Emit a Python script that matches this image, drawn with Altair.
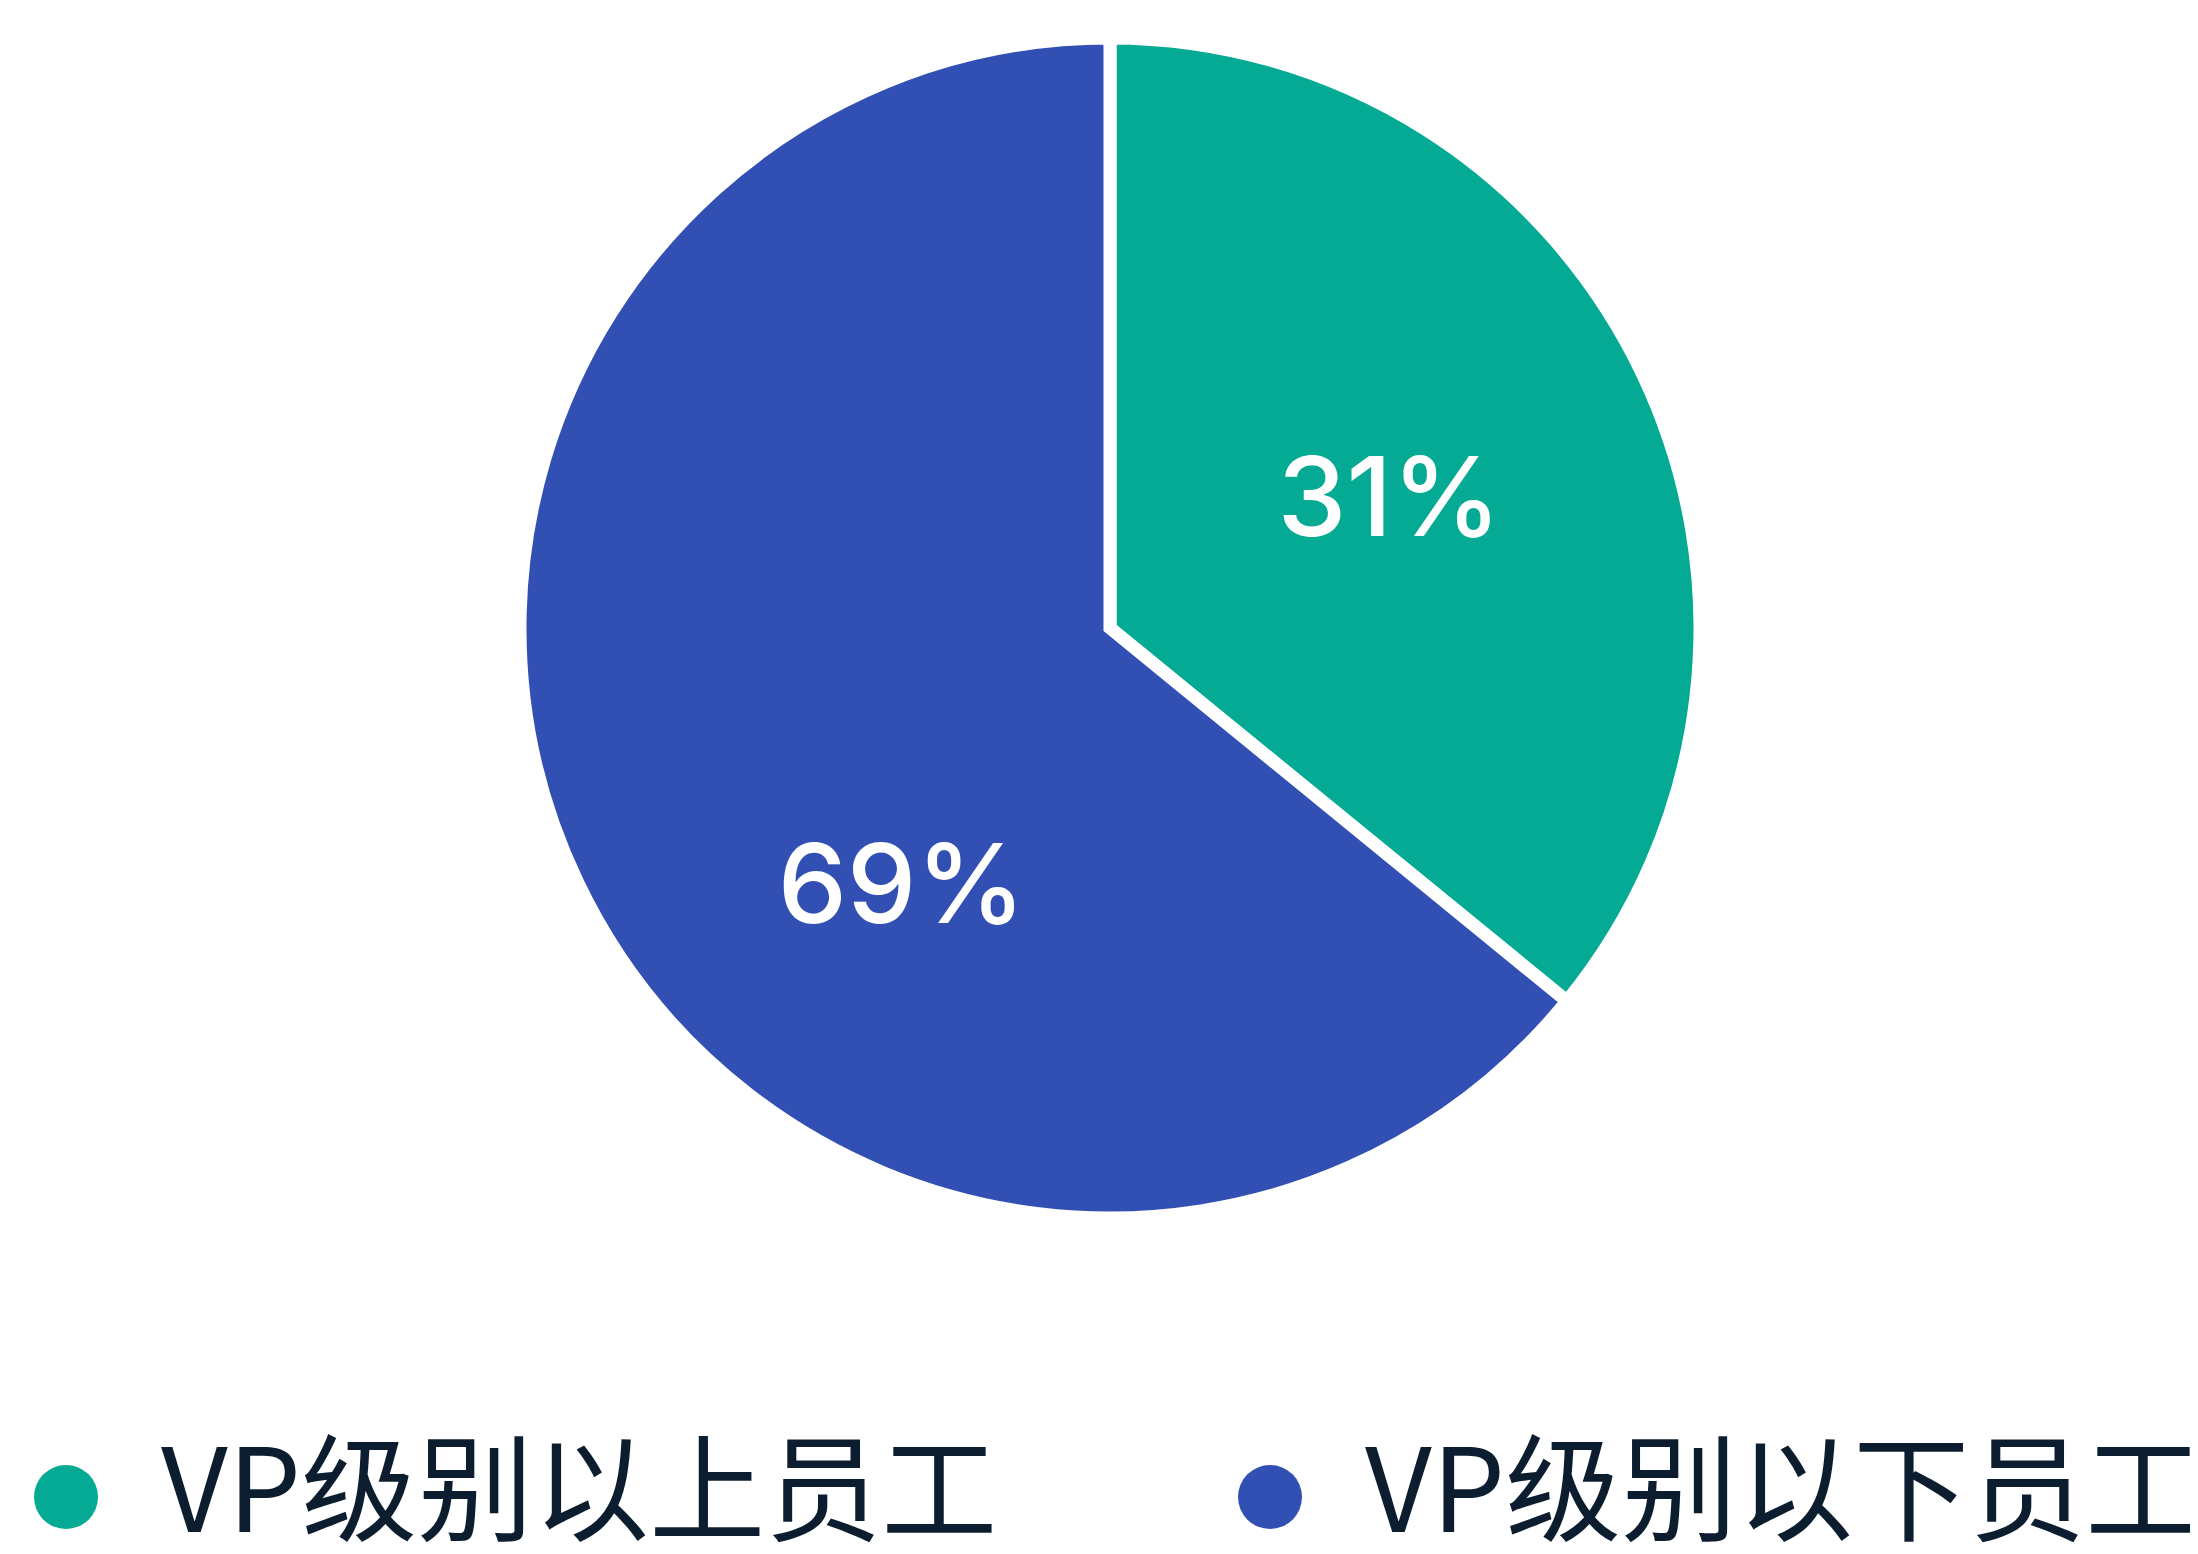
import altair as alt
import pandas as pd

categories = ["VP级别以上员工", "VP级别以下员工"]
shares = [35.9, 64.1]
labels = ["31%", "69%"]
order_idx = [0, 1]
colors = ["#04AA93", "#324FB4"]

df = pd.DataFrame({"cat": categories, "share": shares, "label": labels, "idx": order_idx})

CX, CY = 1102, 620

base = alt.Chart(df)

arc = base.mark_arc(outerRadius=590, stroke="white", strokeWidth=13).encode(
    theta=alt.Theta("share:Q", stack=True, scale=alt.Scale(domain=[0, 100])),
    color=alt.Color(
        "cat:N",
        scale=alt.Scale(domain=categories, range=colors),
        legend=alt.Legend(
            title=None,
            orient="none",
            direction="horizontal",
            legendX=0,
            legendY=1431,
            padding=0,
            symbolType="circle",
            symbolSize=4096,
            symbolStrokeWidth=0,
            symbolOpacity=1,
            labelFont="Noto Sans CJK SC",
            labelFontSize=116,
            labelColor="#0B1D2E",
            labelOffset=37,
            labelLimit=2000,
            columnPadding=214,
        ),
    ),
    order=alt.Order("idx:Q"),
    x=alt.value(CX),
    y=alt.value(CY),
)

txt_base = base.transform_window(
    cum="sum(share)", sort=[alt.SortField("idx")]
).transform_calculate(mid="datum.cum - datum.share / 2")


def label_layer(i, r, dx, dy):
    return txt_base.transform_filter(alt.datum.idx == i).mark_text(
        radius=r, dx=dx, dy=dy, font="Inter", fontSize=110, fontWeight=500,
        color="white", align="center", baseline="middle",
    ).encode(
        theta=alt.Theta("mid:Q", stack=None, scale=alt.Scale(domain=[0, 100])),
        text="label:N",
        x=alt.value(CX),
        y=alt.value(CY),
    )


t1 = label_layer(0, 307, 2, 7)
t2 = label_layer(1, 307, 69, 130)

chart = alt.layer(arc, t1, t2).properties(
    width=2182, height=1538, autosize=alt.AutoSizeParams(type="none"), padding=0
).configure_view(stroke=None)

chart.save("out.html", embed_options={"renderer": "svg", "actions": False})
